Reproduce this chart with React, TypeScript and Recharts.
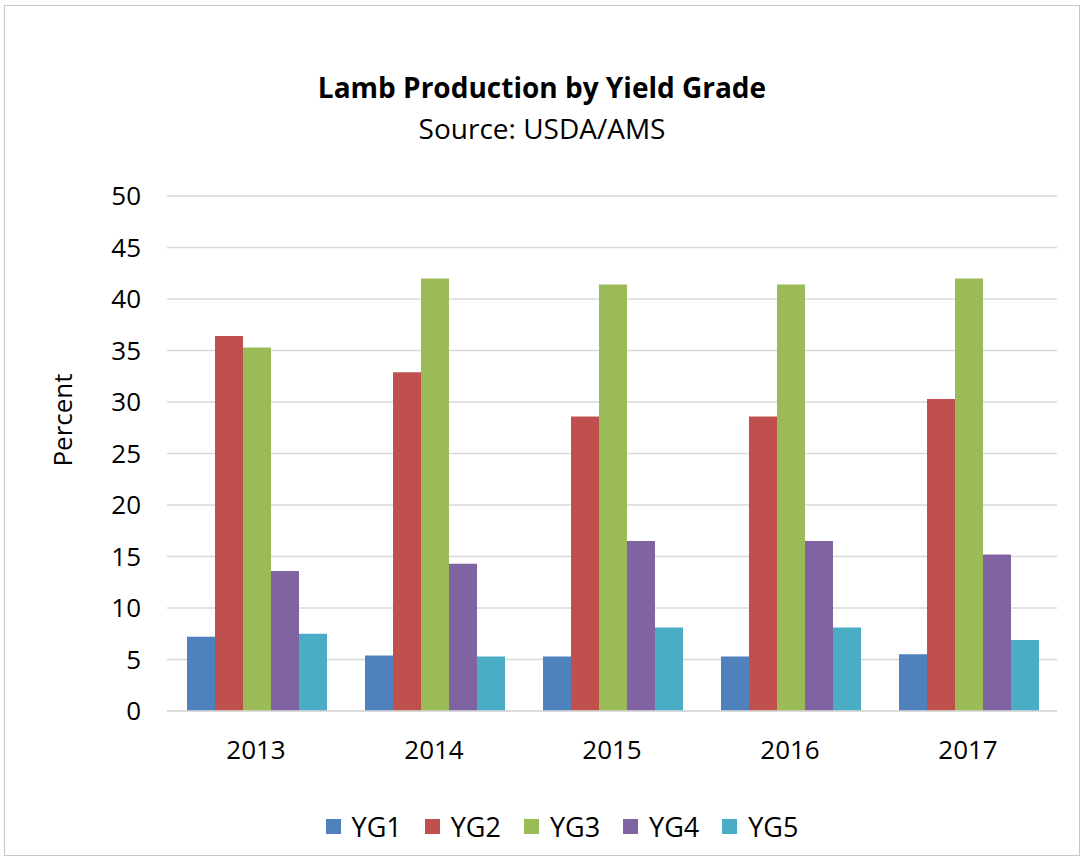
import React from 'react';
import { BarChart, Bar, XAxis, YAxis, CartesianGrid, Legend } from 'recharts';

const years = ['2013', '2014', '2015', '2016', '2017'];
const yg1 = [7.2, 5.4, 5.3, 5.3, 5.5];
const yg2 = [36.4, 32.9, 28.6, 28.6, 30.3];
const yg3 = [35.3, 42.0, 41.4, 41.4, 42.0];
const yg4 = [13.6, 14.3, 16.5, 16.5, 15.2];
const yg5 = [7.5, 5.3, 8.1, 8.1, 6.9];
const yTicks = [0, 5, 10, 15, 20, 25, 30, 35, 40, 45, 50];

const SERIES = [
  { key: 'YG1', color: '#4F81BD' },
  { key: 'YG2', color: '#C0504D' },
  { key: 'YG3', color: '#9BBB59' },
  { key: 'YG4', color: '#8064A2' },
  { key: 'YG5', color: '#4BACC6' },
];

const data = years.map((year, i) => ({
  year,
  YG1: yg1[i],
  YG2: yg2[i],
  YG3: yg3[i],
  YG4: yg4[i],
  YG5: yg5[i],
}));

const FONT = '"Open Sans", "Noto Sans", sans-serif';
const W = 1074;
const H = 849;

const renderLegend = () => (
  <div style={{ display: 'flex', justifyContent: 'center', alignItems: 'center', height: 40, paddingLeft: 40, gap: 23, fontFamily: FONT, fontSize: 27, color: '#000' }}>
    {SERIES.map((s) => (
      <div key={s.key} style={{ display: 'flex', alignItems: 'center' }}>
        <span style={{ display: 'inline-block', width: 15, height: 15, background: s.color, marginRight: 11 }} />
        <span>{s.key}</span>
      </div>
    ))}
  </div>
);

export default function App() {
  return (
    <div style={{ position: 'absolute', left: 4, top: 5, width: W, height: H, border: '1px solid #c8c8c8', background: '#fff', fontFamily: FONT }}>
      <div style={{ position: 'absolute', top: 67, left: 0, width: W, textAlign: 'center', fontSize: 28, lineHeight: 1, fontWeight: 700 }}>
        Lamb Production by Yield Grade
      </div>
      <div style={{ position: 'absolute', top: 108, left: 0, width: W, textAlign: 'center', fontSize: 28, lineHeight: 1 }}>
        Source: USDA/AMS
      </div>
      <div style={{ position: 'absolute', left: 57, top: 414, transform: 'translate(-50%, -50%) rotate(-90deg)', fontSize: 26, lineHeight: 1, whiteSpace: 'nowrap' }}>
        Percent
      </div>
      <BarChart width={W} height={H} data={data} margin={{ top: 190, right: 22, left: 62, bottom: 44 }} barCategoryGap={20} barGap={0}>
        <CartesianGrid vertical={false} stroke="#d9d9d9" strokeWidth={1.5} />
        <XAxis
          dataKey="year"
          height={60}
          tickLine={false}
          axisLine={{ stroke: '#d9d9d9', strokeWidth: 1.5 }}
          tickMargin={24}
          tick={{ fontSize: 26, fill: '#000', fontFamily: FONT }}
        />
        <YAxis
          width={100}
          domain={[0, 50]}
          ticks={yTicks}
          interval={0}
          tickLine={false}
          axisLine={false}
          tickMargin={20}
          tick={{ fontSize: 26, fill: '#000', fontFamily: FONT }}
        />
        <Legend verticalAlign="bottom" content={renderLegend} wrapperStyle={{ left: 0, width: W, top: 800, bottom: 'auto' }} />
        {SERIES.map((s) => (
          <Bar key={s.key} dataKey={s.key} fill={s.color} isAnimationActive={false} />
        ))}
      </BarChart>
    </div>
  );
}
